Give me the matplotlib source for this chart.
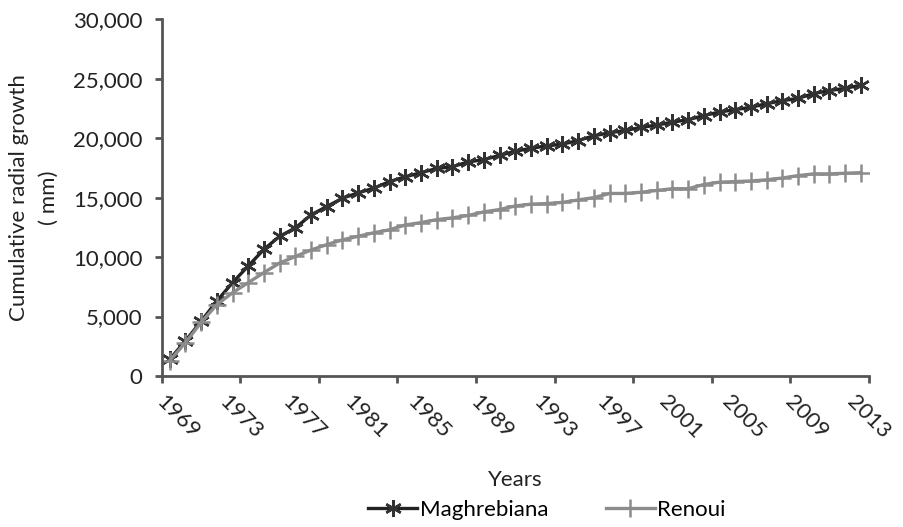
import matplotlib.pyplot as plt
from matplotlib.ticker import FuncFormatter, FixedLocator
import matplotlib.transforms as mtransforms

years = list(range(1969, 2014))
label_years = years[::4]

maghrebiana = [1400, 2950, 4600, 6300, 7850, 9250, 10650, 11750, 12450, 13550,
               14250, 14950, 15400, 15800, 16350, 16750, 17100, 17450, 17600, 18000,
               18200, 18550, 18900, 19150, 19350, 19500, 19800, 20200, 20450, 20650,
               20900, 21100, 21350, 21550, 21900, 22200, 22400, 22600, 22900, 23150,
               23350, 23750, 24000, 24200, 24450]
renoui = [1300, 2800, 4500, 6000, 7000, 7850, 8700, 9500, 10050, 10600,
          11050, 11450, 11750, 12050, 12300, 12700, 12900, 13150, 13300, 13500,
          13800, 14000, 14300, 14450, 14500, 14600, 14800, 15000, 15350, 15350,
          15450, 15600, 15750, 15750, 16100, 16300, 16350, 16400, 16500, 16650,
          16850, 17000, 17000, 17050, 17100]

plt.rcParams['font.family'] = ['Lato', 'DejaVu Sans']

fig = plt.figure(figsize=(9.04, 5.27), dpi=100)
ax = fig.add_axes([0.179, 0.2865, 0.782, 0.677])

x = list(range(len(years)))
ax.plot(x, maghrebiana, color='#222222', lw=2.4, marker=(6, 2, 0), ms=12,
        mew=1.8, mec='#333333', label='Maghrebiana')
ax.plot(x, renoui, color='#8c8c8c', lw=2.4, marker='+', ms=13,
        mew=1.8, mec='#8c8c8c', label='Renoui')

ax.set_xlim(-0.5, len(years) - 0.5)
ax.set_ylim(0, 30000)
ax.set_yticks(range(0, 30001, 5000))
ax.yaxis.set_major_formatter(FuncFormatter(lambda v, p: f'{int(v):,}'))

# tick marks every 5 categories, labels every 4
ax.xaxis.set_minor_locator(FixedLocator([-0.5 + 5 * k for k in range(10)]))
ax.set_xticks([years.index(y) for y in label_years])
ax.set_xticklabels([str(y) for y in label_years], rotation=-45, ha='center')
ax.tick_params(axis='x', which='major', length=0, pad=11, labelsize=16, colors='#222222')
ax.tick_params(axis='x', which='minor', length=5, width=2, color='#555555')
ax.tick_params(axis='y', length=5, width=2, pad=9, color='#555555', labelsize=16, labelcolor='#222222')
offset = mtransforms.ScaledTranslation(8 / 100, 0, fig.dpi_scale_trans)
for lbl in ax.get_xticklabels():
    lbl.set_transform(lbl.get_transform() + offset)

for side in ['top', 'right']:
    ax.spines[side].set_visible(False)
for side in ['left', 'bottom']:
    ax.spines[side].set_color('#555555')
    ax.spines[side].set_linewidth(2)

ax.set_xlabel('Years', fontsize=16, color='#222222', labelpad=20)
ax.set_ylabel('Cumulative radial growth\n( mm)', fontsize=16, color='#222222',
              labelpad=10, linespacing=1.6)

fig.legend(*ax.get_legend_handles_labels(), loc='center', bbox_to_anchor=(0.605, 0.033),
           ncol=2, frameon=False, fontsize=16, handlelength=2.2, handletextpad=0.1,
           columnspacing=2.6, borderaxespad=0)

fig.savefig('out.png', dpi=100)
